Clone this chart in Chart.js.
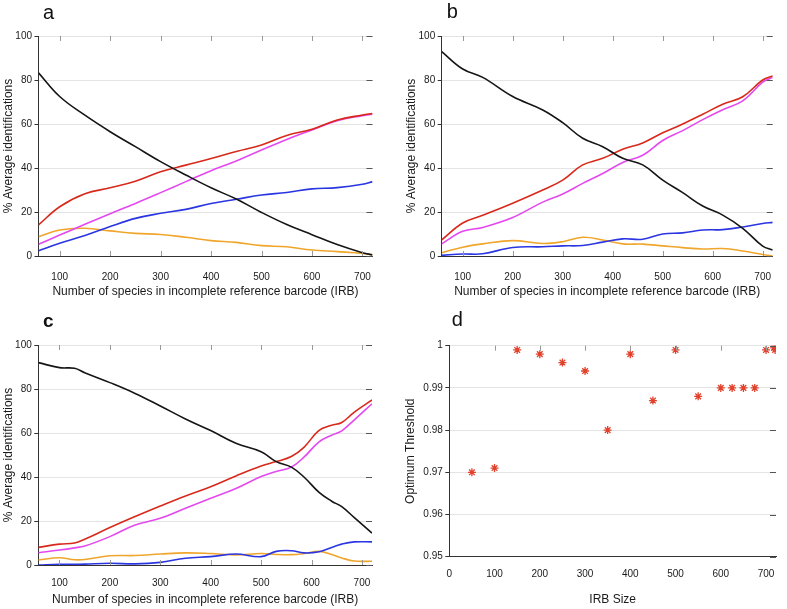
<!DOCTYPE html>
<html>
<head>
<meta charset="utf-8">
<script src="https://cdn.jsdelivr.net/npm/chart.js@4"></script>
<style>
  body { margin: 0; background: #fff; }
  #wrap { position: relative; width: 787px; height: 609px; }
  canvas { position: absolute; }
</style>
</head>
<body>
<div id="wrap">
  <canvas id="panelA" width="393" height="305" style="left:0;top:0"></canvas>
  <canvas id="panelB" width="394" height="305" style="left:393px;top:0"></canvas>
  <canvas id="panelC" width="393" height="304" style="left:0;top:305px"></canvas>
  <canvas id="panelD" width="394" height="304" style="left:393px;top:305px"></canvas>
</div>
<script>
// panel a
const aX       = [58, 100, 150, 200, 250, 300, 350, 400, 450, 500, 550, 600, 650, 700, 720];
const aBlack   = [83.3, 72.5, 64, 56.5, 49.7, 42.9, 36.8, 31, 25.9, 19.8, 14.3, 9.7, 5.2, 1.5, 0.5];
const aRed     = [14.1, 22.4, 28.3, 31, 34, 38.3, 41.3, 44.3, 47.5, 50.5, 54.8, 57.6, 61.8, 64.1, 64.8];
const aMagenta = [5.3, 9.5, 14.4, 19.2, 23.9, 28.8, 33.8, 38.8, 43.2, 48.2, 53, 57.3, 61.5, 63.8, 64.5];
const aBlue    = [2.4, 5.8, 9.3, 13.4, 17.1, 19.4, 21.2, 23.9, 25.8, 27.7, 28.9, 30.5, 31.1, 32.6, 33.8];
const aOrange  = [8.8, 11.8, 12.6, 11.4, 10.3, 9.8, 8.5, 7, 6.2, 4.7, 4.2, 2.7, 2, 1.2, 0.5];

// panel b
const bX       = [58, 100, 140, 200, 260, 300, 340, 380, 420, 460, 500, 540, 580, 620, 660, 700, 720];
const bBlack   = [92.9, 85, 81.2, 72.5, 66.4, 60.6, 53.5, 49.7, 44.4, 41.4, 34.5, 28.8, 22.7, 18.6, 12.6, 4.5, 2.7];
const bRed     = [7.3, 15, 18.5, 24, 30, 34.5, 41.4, 44.4, 48.5, 51.4, 56, 60, 64.4, 69, 72.4, 80, 81.8];
const bMagenta = [5.5, 11.2, 13, 17.5, 24.5, 28.2, 33, 37.5, 42.5, 45.8, 52.5, 57, 62, 66.5, 70.5, 79, 81.2];
const bBlue    = [0.3, 0.9, 1, 3.9, 4.2, 4.6, 4.8, 6.3, 7.8, 7.6, 10, 10.5, 11.8, 12, 13.2, 14.8, 15.3];
const bOrange  = [1.5, 4, 5.5, 7, 5.7, 6.5, 8.5, 7.3, 5.5, 5.4, 4.6, 3.8, 3.2, 3.4, 2.3, 0.7, 0];

// panel c
const cX       = [58, 100, 130, 150, 200, 250, 300, 350, 400, 450, 500, 530, 560, 585, 615, 640, 660, 685, 720];
const cBlack   = [92, 89.7, 89.4, 87.4, 82.9, 78, 72.3, 66.4, 61.1, 55.3, 51.5, 47, 44.5, 40, 33, 29, 26.5, 21.5, 14.5];
const cRed     = [8, 9.5, 10, 11.7, 17, 22, 26.8, 31.4, 35.6, 40.5, 45, 47, 49.3, 53.5, 61.2, 63.5, 64.8, 69.5, 75];
const cMagenta = [5.6, 6.8, 7.8, 8.6, 12.9, 18.2, 21.2, 25.8, 30.3, 34.8, 40.2, 42.5, 44.5, 49, 56, 59, 61, 66, 73.3];
const cBlue    = [0, 0.3, 0.3, 0.4, 0.8, 0.5, 1.2, 3.1, 3.8, 5, 3.8, 6.2, 6.5, 5.5, 6, 8, 9.5, 10.5, 10.5];
const cOrange  = [2.3, 3.3, 2.4, 2.5, 4.2, 4.3, 5, 5.5, 5.2, 4.6, 5.2, 4.8, 4.7, 5.2, 6.2, 4.8, 3.2, 1.8, 1.7];

// panel d
const dX = [50, 100, 150, 200, 250, 300, 350, 400, 450, 500, 550, 600, 625, 650, 675, 700, 718, 720, 720, 722];
const dY = [0.970, 0.971, 0.999, 0.998, 0.996, 0.994, 0.980, 0.998, 0.987, 0.999, 0.988, 0.990, 0.990, 0.990, 0.990, 0.999, 0.9995, 1.0, 0.999, 0.9998];

const xTitle = "Number of species in incomplete reference barcode (IRB)";
const yTitle = "% Average identifications";

const FONT = "'Liberation Sans', Arial, sans-serif";
const pts = (xs, ys) => xs.map((x, i) => ({ x, y: ys[i] }));

// gnuplot-like inner tick marks on top/right (and bottom) + panel letter
const frameTicks = {
  id: "frameTicks",
  afterDraw(chart, args, o) {
    const { ctx, chartArea: a, scales: { x, y } } = chart;
    ctx.save();
    ctx.lineWidth = 1;
    ctx.strokeStyle = "#999";
    ctx.beginPath();
    x.ticks.forEach(t => {
      const px = Math.round(x.getPixelForValue(t.value)) + 0.5;
      if (px <= a.left + 2) return;
      ctx.moveTo(px, a.top); ctx.lineTo(px, a.top + 5);
      if (o.bottom) { ctx.moveTo(px, a.bottom); ctx.lineTo(px, a.bottom - 5); }
    });
    ctx.stroke();
    ctx.strokeStyle = "#555";
    ctx.beginPath();
    y.ticks.forEach(t => {
      const py = Math.round(y.getPixelForValue(t.value)) + 0.5;
      ctx.moveTo(a.right, py); ctx.lineTo(a.right - 6, py);
    });
    ctx.stroke();
    ctx.fillStyle = "#111";
    ctx.font = o.font;
    ctx.fillText(o.letter, o.lx, o.ly);
    ctx.restore();
  }
};

const lineSet = (label, xs, ys, color) => ({
  label, data: pts(xs, ys), borderColor: color, borderWidth: 1.6,
  pointRadius: 0, tension: 0.4, fill: false
});

function axes(g, xmin, xmax, ymin, ymax, ystep, yTitleText, xTitleText) {
  return {
    x: {
      type: "linear", min: xmin, max: xmax,
      afterFit: s => { s.height = g.xHeight; },
      grid: { display: true, drawOnChartArea: false, drawTicks: false },
      border: { color: "#333", width: 1 },
      ticks: { stepSize: 100, includeBounds: false, padding: g.xTickPad, color: "#1a1a1a", font: { family: FONT, size: 10 } },
      title: { display: true, text: xTitleText, color: "#1a1a1a", padding: { top: 0, bottom: g.xTitlePad }, font: { family: FONT, size: 12 } }
    },
    y: {
      min: ymin, max: ymax,
      afterFit: s => { s.width = g.yWidth; },
      grid: { color: "#e4e4e4", tickColor: "#333", tickLength: 4 },
      border: { color: "#333", width: 1 },
      ticks: {
        stepSize: ystep, padding: 2.5, color: "#1a1a1a", font: { family: FONT, size: 10 },
        callback: v => String(+v.toFixed(2))
      },
      title: { display: true, text: yTitleText, color: "#1a1a1a", padding: { top: g.yTitlePad, bottom: 0 }, font: { family: FONT, size: 12 } }
    }
  };
}

function linePanel(id, xs, black, red, magenta, blue, orange, g) {
  return new Chart(document.getElementById(id), {
    type: "line",
    data: {
      datasets: [
        lineSet("black", xs, black, "#151515"),
        lineSet("red", xs, red, "#d8291b"),
        lineSet("magenta", xs, magenta, "#e449ef"),
        lineSet("blue", xs, blue, "#2a36e2"),
        lineSet("orange", xs, orange, "#f0a62c")
      ]
    },
    options: {
      responsive: false,
      animation: false,
      layout: { padding: g.pad },
      plugins: {
        legend: { display: false },
        tooltip: { enabled: false },
        frameTicks: { bottom: true, letter: g.letter, lx: g.lx, ly: g.ly, font: g.font }
      },
      scales: axes(g, 58, 720, 0, 100, 20, yTitle, xTitle)
    },
    plugins: [frameTicks]
  });
}

linePanel("panelA", aX, aBlack, aRed, aMagenta, aBlue, aOrange, {
  pad: { top: 36, right: 20.5, bottom: 5, left: 0 },
  yWidth: 38.5, xHeight: 44, xTickPad: 15, xTitlePad: 1.1, yTitlePad: 1.8,
  letter: "a", lx: 43, ly: 18.5, font: "20px " + FONT
});

linePanel("panelB", bX, bBlack, bRed, bMagenta, bBlue, bOrange, {
  pad: { top: 36, right: 11.3, bottom: 5, left: 0 },
  yWidth: 48.7, xHeight: 44, xTickPad: 15.6, xTitlePad: 1.1, yTitlePad: 11.8,
  letter: "b", lx: 53.7, ly: 18.3, font: "20px " + FONT
});

linePanel("panelC", cX, cBlack, cRed, cMagenta, cBlue, cOrange, {
  pad: { top: 40, right: 21, bottom: 2, left: 0 },
  yWidth: 38.3, xHeight: 42, xTickPad: 12, xTitlePad: 0, yTitlePad: 1.1,
  letter: "c", lx: 43, ly: 21.7, font: "bold 19px " + FONT
});

new Chart(document.getElementById("panelD"), {
  type: "scatter",
  data: {
    datasets: [{
      label: "Optimum Threshold",
      data: pts(dX, dY),
      pointStyle: "star",
      pointRadius: 4,
      borderColor: "#e2412b",
      backgroundColor: "#e2412b",
      borderWidth: 1.3
    }]
  },
  options: {
    responsive: false,
    animation: false,
    layout: { padding: { top: 40.7, right: 11, bottom: 2, left: 0 } },
    plugins: {
      legend: { display: false },
      tooltip: { enabled: false },
      frameTicks: { bottom: false, letter: "d", lx: 58.7, ly: 21, font: "20px " + FONT }
    },
    scales: axes({ yWidth: 56.3, xHeight: 50.3, xTickPad: 11.6, xTitlePad: 0, yTitlePad: 10.5 },
                 0, 722, 0.95, 1, 0.01, "Optimum Threshold", "IRB Size")
  },
  plugins: [frameTicks]
});
</script>
</body>
</html>
